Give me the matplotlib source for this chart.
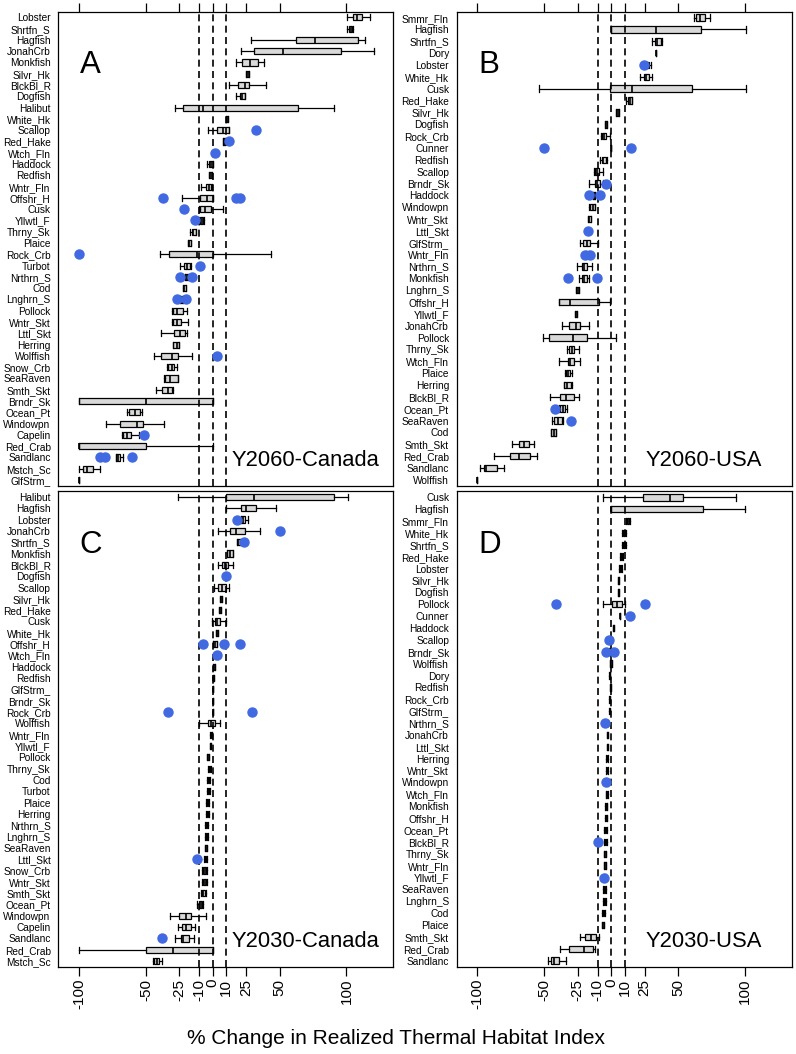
import matplotlib
matplotlib.use("Agg")
import matplotlib.pyplot as plt

plt.rcParams['font.family'] = ['Liberation Sans', 'DejaVu Sans']

# ---------------- Panel A : Y2060-Canada ----------------
A_species = ["Lobster", "Shrtfn_S", "Hagfish", "JonahCrb", "Monkfish", "Silvr_Hk", "BlckBl_R",
             "Dogfish", "Halibut", "White_Hk", "Scallop", "Red_Hake", "Wtch_Fln", "Haddock",
             "Redfish", "Wntr_Fln", "Offshr_H", "Cusk", "Yllwtl_F", "Thrny_Sk", "Plaice",
             "Rock_Crb", "Turbot", "Nrthrn_S", "Cod", "Lnghrn_S", "Pollock", "Wntr_Skt",
             "Lttl_Skt", "Herring", "Wolffish", "Snow_Crb", "SeaRaven", "Smth_Skt", "Brndr_Sk",
             "Ocean_Pt", "Windowpn", "Capelin", "Red_Crab", "Sandlanc", "Mstch_Sc", "GlfStrm_"]
A_lo = [100.5, 100.5, 28.5, 21, 17.5, 25.2, 12.5, 17.2, -28.2, 9.7, -3.2, 7.5, 0, -4, -2.8, -9,
        -23.2, -10, -10, -17, -18.8, -39.5, -24.5, -21, -22.2, -24.5, -30.8, -30.8, -38.8, -30,
        -43.8, -34.5, -36.5, -42.8, -100.2, -64, -80.2, -67.5, -100.2, -72.5, -100.2, -100]
A_q1 = [105, 101.8, 62.5, 31.2, 21.8, 25.2, 18.5, 20.5, -22.5, 9.7, 3.5, 7.5, 0, -2.5, -2.8, -5,
        -9.2, -9.5, -9.5, -15.8, -18.8, -32.8, -21.2, -20.8, -22.2, -24.5, -30, -29.5, -29, -29.5,
        -39, -33.2, -35.8, -37.8, -100.2, -62.8, -69, -67, -100.2, -72.2, -97, -100]
A_med = [108, 103, 76.2, 52.5, 28, 26, 23.8, 22.2, -7.5, 10.5, 8, 8.5, 0.8, -1.2, -1.5, -3,
         -4.5, -5.8, -8.2, -14.5, -17.5, -12, -19.5, -19.5, -21.2, -23.2, -26.5, -27, -24.5,
         -27, -30.2, -30.8, -32, -33.2, -50, -58.2, -56.5, -64.5, -100.2, -70.8, -94, -100]
A_q3 = [111.8, 104.2, 108.5, 96, 34.2, 26.8, 27, 24.2, 63.5, 11.2, 11.8, 9.5, 1.5, 0, -0.8, -1,
        0, -1.2, -7, -12.8, -16, 0, -17, -18.2, -20.2, -22, -22, -24, -20.8, -25.2, -26.2, -29,
        -26.2, -30.8, 0, -54.5, -52, -61.5, -50, -69, -89.5, -100]
A_hi = [117.5, 105, 113.8, 120.5, 38, 26.8, 39.8, 24.2, 91, 11.2, 12.5, 9.5, 1.5, 0, -0.8, -0.2,
        0, 8, -6.5, -12.2, -16, 43.5, -16.5, -18.2, -20.2, -22, -19.5, -18.2, -19.5, -25, -15.8,
        -27, -25.8, -30, 0, -52.8, -36.5, -55, 0, -67, -84.5, -100]
A_fliers = {"Scallop": [32.2], "Red_Hake": [12.2], "Wtch_Fln": [1.8],
            "Offshr_H": [-37.5, 17.5, 20.5], "Cusk": [-21.5], "Yllwtl_F": [-13.2],
            "Rock_Crb": [-100.2], "Turbot": [-9.5], "Nrthrn_S": [-24.5, -15.2],
            "Lnghrn_S": [-26.5, -20], "Wolffish": [3.5], "Capelin": [-51.2],
            "Sandlanc": [-84.5, -80.8, -60.2]}

# ---------------- Panel B : Y2060-USA ----------------
B_species = ["Smmr_Fln", "Hagfish", "Shrtfn_S", "Dory", "Lobster", "White_Hk", "Cusk",
             "Red_Hake", "Silvr_Hk", "Dogfish", "Rock_Crb", "Cunner", "Redfish", "Scallop",
             "Brndr_Sk", "Haddock", "Windowpn", "Wntr_Skt", "Lttl_Skt", "GlfStrm_", "Wntr_Fln",
             "Nrthrn_S", "Monkfish", "Lnghrn_S", "Offshr_H", "Yllwtl_F", "JonahCrb", "Pollock",
             "Thrny_Sk", "Wtch_Fln", "Plaice", "Herring", "BlckBl_R", "Ocean_Pt", "SeaRaven",
             "Cod", "Smth_Skt", "Red_Crab", "Sandlanc", "Wolffish"]
B_lo = [62, 0, 30.5, 33.8, 25.8, 21.8, -53.8, 11.2, 3.8, -4.5, -7.5, 0, -8.2, -13, -16.8, -13.8,
        -16.8, -17.2, -18.2, -23, -19, -25.8, -23.8, -26.2, -39.2, -26.8, -36.8, -51.2, -33.2,
        -38.8, -34.5, -35.5, -45.8, -38.8, -44.5, -45, -74.2, -87.5, -98.2, -100]
B_q1 = [63.8, 0, 32.5, 33.8, 25.8, 24.2, -1.2, 12.5, 3.8, -4.5, -6.8, 0, -7, -12, -12, -13.8,
        -15.5, -17.2, -18.2, -20.8, -19, -21.8, -21.8, -26.2, -38.8, -26.8, -31.2, -46.2, -31.8,
        -32.5, -33.8, -35, -38, -38, -42.5, -45, -69.2, -75.8, -95, -100]
B_med = [66.8, 33.8, 34.5, 33.8, 26.8, 26.2, 15.8, 13.8, 5, -3.8, -5.5, 0, -5.8, -10.5, -10.5,
         -12.5, -13.8, -16.2, -17.5, -18.2, -17.5, -20, -20, -25, -30.5, -26, -26.2, -28.8,
         -29.2, -30.8, -32.5, -33.2, -33.8, -36.2, -40, -43, -65.5, -69.2, -93.8, -100]
B_q3 = [70, 67, 37, 33.8, 28.2, 28, 60.8, 15.8, 6.2, -2.8, -3.8, 0, -3.8, -8.8, -8.2, -11.8, -12,
        -15, -16.8, -15.5, -16.5, -18, -18.2, -23.8, -8.8, -25.2, -23, -18, -27.5, -27.5, -30.8,
        -30, -28, -34.2, -36.8, -41.2, -61.2, -60.5, -85.5, -100]
B_hi = [73.8, 100.5, 38, 33.8, 30, 30.8, 100.5, 15.8, 6.2, -2.8, -0.5, 0, -3.2, -5.8, -6.2, -11.8,
        -12, -15, -16.8, -10, -16.5, -14.5, -16.2, -23.8, -0.5, -25.2, -16.2, 3.8, -24.2, -23,
        -29.2, -29.2, -24.2, -33.2, -36.2, -41.2, -57.5, -55.8, -80, -100]
B_fliers = {"Lobster": [24.2], "Cunner": [-50, 15], "Brndr_Sk": [-4.2],
            "Haddock": [-16.8, -8.2], "Lttl_Skt": [-17.5], "Wntr_Fln": [-19.2, -15.5],
            "Monkfish": [-32.5, -10.5], "Ocean_Pt": [-41.8], "SeaRaven": [-30]}

# ---------------- Panel C : Y2030-Canada ----------------
C_species = ["Halibut", "Hagfish", "Lobster", "JonahCrb", "Shrtfn_S", "Monkfish", "BlckBl_R",
             "Dogfish", "Scallop", "Silvr_Hk", "Red_Hake", "Cusk", "White_Hk", "Offshr_H",
             "Wtch_Fln", "Haddock", "Redfish", "GlfStrm_", "Brndr_Sk", "Rock_Crb", "Wolffish",
             "Wntr_Fln", "Yllwtl_F", "Pollock", "Thrny_Sk", "Cod", "Turbot", "Plaice", "Herring",
             "Nrthrn_S", "Lnghrn_S", "SeaRaven", "Lttl_Skt", "Snow_Crb", "Wntr_Skt", "Smth_Skt",
             "Ocean_Pt", "Windowpn", "Capelin", "Sandlanc", "Red_Crab", "Mstch_Sc"]
C_lo = [-26.2, 10, 21, 3.8, 18.2, 10.5, 3.8, 9, 1.2, 5.5, 4.5, -0.2, 2.5, 0.5, 2, 0.5, 0, 0, 0, 0,
        -10, -1.8, -2, -4.5, -3.5, -4, -4, -5, -5, -5.5, -5.5, -6, -6.5, -8, -8, -9, -12, -32,
        -26, -28, -100, -45]
C_q1 = [10, 21, 21, 13, 18.2, 11, 6.8, 9, 4.2, 5.5, 4.5, 1.8, 2.5, 0.5, 2, 0.5, 0, 0, 0, 0,
        -3.2, -1.5, -1.8, -4, -3, -3.5, -3.5, -4.5, -4.5, -5, -5, -5.5, -6, -7, -7, -8, -10, -25,
        -23, -24, -50, -44]
C_med = [31, 25, 22.5, 17.5, 19.2, 13, 8.8, 10, 6.8, 6, 5.2, 3.5, 3.2, 1.8, 3, 1, 0.5, 0, 0, 0,
         -1.5, -1.2, -1.5, -3.5, -2.5, -3, -3, -4, -4, -4.5, -4.5, -5, -5.5, -6, -6, -7, -9, -20,
         -20, -22, -30, -42]
C_q3 = [91, 32.5, 24.2, 23.8, 20.5, 15.5, 11.2, 11, 10, 6.8, 6.2, 5.5, 4.2, 3, 4, 2, 1, 0, 0, 0,
        1.8, -0.8, -1.2, -3, -2, -2.5, -2.5, -3.5, -3.5, -4, -4, -4.5, -5, -5, -5, -6, -8, -16,
        -16, -18, 0, -40]
C_hi = [101.2, 47.5, 26, 35, 20.5, 15.5, 15.5, 11, 12.5, 6.8, 6.2, 10, 4.2, 3, 4, 2, 1, 0, 0, 0,
        5.5, -0.5, -1, -2.5, -1.5, -2, -2, -3, -3, -3.5, -3.5, -4, -4.5, -4, -4, -5, -7, -5, -13,
        -14, 0, -38]
C_fliers = {"Lobster": [18], "JonahCrb": [50.5], "Shrtfn_S": [23], "Dogfish": [10],
            "Offshr_H": [-7.5, 8.5, 20], "Wtch_Fln": [3], "Rock_Crb": [-33.2, 29.2],
            "Lttl_Skt": [-12], "Sandlanc": [-38]}

# ---------------- Panel D : Y2030-USA ----------------
D_species = ["Cusk", "Hagfish", "Smmr_Fln", "White_Hk", "Shrtfn_S", "Red_Hake", "Lobster",
             "Silvr_Hk", "Dogfish", "Pollock", "Cunner", "Haddock", "Scallop", "Brndr_Sk",
             "Wolffish", "Dory", "Redfish", "Rock_Crb", "GlfStrm_", "Nrthrn_S", "JonahCrb",
             "Lttl_Skt", "Herring", "Wntr_Skt", "Windowpn", "Wtch_Fln", "Monkfish", "Offshr_H",
             "Ocean_Pt", "BlckBl_R", "Thrny_Sk", "Wntr_Fln", "Yllwtl_F", "SeaRaven", "Lnghrn_S",
             "Cod", "Plaice", "Smth_Skt", "Red_Crab", "Sandlanc"]
D_lo = [-6, 0, 11, 8, 8, 6.5, 6, 5, 5, -6, 6.5, 1.5, -1, -1.5, -1, -1.5, -0.8, -1.5, -1.5, -4,
        -3, -3, -3.5, -3.5, -3.5, -4, -4.5, -4.5, -5, -5, -5.2, -5.2, -5.5, -6, -6, -6.5, -7,
        -23, -38, -47]
D_q1 = [24, 0, 11.5, 8.5, 8.5, 7, 6.5, 5.2, 5.2, 0.5, 6.5, 1.5, -0.5, -1, -0.5, -1.2, -0.5, -1.2,
        -1.2, -3.5, -2.8, -2.8, -3.2, -3.2, -3.2, -3.5, -4, -4, -4.5, -4.5, -5, -5, -5.2, -5.5,
        -5.5, -6, -6.5, -19.5, -31.5, -45]
D_med = [44, 0, 12.5, 9.5, 9.5, 7.5, 7, 5.5, 5.5, 4, 6.5, 1.8, 0, -0.5, 0, -1, -0.2, -1, -1, -3,
         -2.5, -2.5, -3, -3, -3, -3.2, -3.5, -3.5, -4, -4, -4.5, -4.5, -5, -5, -5, -5.5, -6, -15,
         -20, -43]
D_q3 = [54, 69, 13.5, 10.5, 10.5, 8, 7.5, 6, 6, 8, 6.5, 2, 0.5, 0, 0.5, -0.8, 0, -0.8, -0.8,
        -2.5, -2.2, -2.2, -2.8, -2.8, -2.8, -3, -3.2, -3.2, -3.5, -3.5, -4, -4, -4.5, -4.5, -4.5,
        -5, -5.5, -11.2, -13.5, -39]
D_hi = [93, 100, 14, 11, 11, 8.5, 8, 6.2, 6.2, 10.5, 6.5, 2.2, 1, 0.5, 1, -0.5, 0.2, -0.5, -0.5,
        -2, -2, -2, -2.5, -2.5, -2.5, -2.5, -3, -3, -3.2, -3.2, -3.5, -3.5, -4, -4, -4, -4.5, -5,
        -9, -12, -34]
D_fliers = {"Pollock": [-41, 25], "Cunner": [14], "Scallop": [-1.5], "Brndr_Sk": [-3.8, 2.2],
            "Nrthrn_S": [-4.5], "Windowpn": [-3.8], "BlckBl_R": [-10], "Yllwtl_F": [-5]}

x_ticks = [-100, -50, -25, -10, 0, 10, 25, 50, 100]
ref_lines = [-10, 0, 10]

W, H = 796, 1054
fig = plt.figure(figsize=(W / 100, H / 100), dpi=100)


def px_axes(l, r, t, b):
    return fig.add_axes([l / W, 1 - b / H, (r - l) / W, (b - t) / H])


def draw(ax, species, lo, q1, med, q3, hi, fliers, letter, label, top, bottom):
    n = len(species)
    pos = [n - i for i in range(n)]
    stats = []
    for i, s in enumerate(species):
        stats.append(dict(whislo=lo[i], q1=q1[i], med=med[i], q3=q3[i], whishi=hi[i],
                          fliers=fliers.get(s, []), label=s))
    ax.bxp(stats, positions=pos, widths=0.55, capwidths=0.55, orientation='horizontal',
           patch_artist=True, manage_ticks=False,
           boxprops=dict(facecolor='#d9d9d9', edgecolor='black', linewidth=0.9),
           medianprops=dict(color='black', linewidth=1.2),
           whiskerprops=dict(color='black', linewidth=0.9),
           capprops=dict(color='black', linewidth=0.9),
           flierprops=dict(marker='o', markerfacecolor='#4169E1', markeredgecolor='#4169E1',
                           markersize=6.5, linestyle='none', zorder=5))
    for v in ref_lines:
        ax.axvline(v, color='black', linestyle=(0, (4.2, 2.6)), linewidth=1.2, zorder=4)
    ax.set_xlim(-115.5, 135)
    ax.set_ylim(0.5, n + 0.5)
    ax.set_yticks(pos)
    ax.set_yticklabels(species, fontsize=7.3)
    ax.tick_params(axis='y', length=0, pad=5.5)
    ax.set_xticks(x_ticks)
    if top:
        ax.tick_params(axis='x', top=True, bottom=False, labeltop=False, labelbottom=False,
                       length=6.5, width=0.9, direction='out')
    else:
        ax.set_xticklabels([str(v) for v in x_ticks], rotation=90, fontsize=11)
        ax.tick_params(axis='x', length=6.5, width=0.9, direction='out', pad=2)
    for sp in ax.spines.values():
        sp.set_linewidth(0.9)
    ax.text(0.097, 0.888, letter, transform=ax.transAxes, fontsize=22.5, ha='center', va='center')
    ax.text(0.738, 0.041, label, transform=ax.transAxes, fontsize=15.8, ha='center',
            va='baseline')


axA = px_axes(58.3, 393.3, 11.7, 485.7)
axB = px_axes(456.7, 791.7, 11.7, 485.7)
axC = px_axes(58.3, 393.3, 491.3, 966.7)
axD = px_axes(456.7, 791.7, 491.3, 966.7)

draw(axA, A_species, A_lo, A_q1, A_med, A_q3, A_hi, A_fliers, "A", "Y2060-Canada", True, False)
draw(axB, B_species, B_lo, B_q1, B_med, B_q3, B_hi, B_fliers, "B", "Y2060-USA", True, False)
draw(axC, C_species, C_lo, C_q1, C_med, C_q3, C_hi, C_fliers, "C", "Y2030-Canada", False, True)
draw(axD, D_species, D_lo, D_q1, D_med, D_q3, D_hi, D_fliers, "D", "Y2030-USA", False, True)

fig.text(396 / W, 1 - 1039 / H, "% Change in Realized Thermal Habitat Index", fontsize=15,
         ha='center', va='center')

fig.savefig("out.png", dpi=100)
